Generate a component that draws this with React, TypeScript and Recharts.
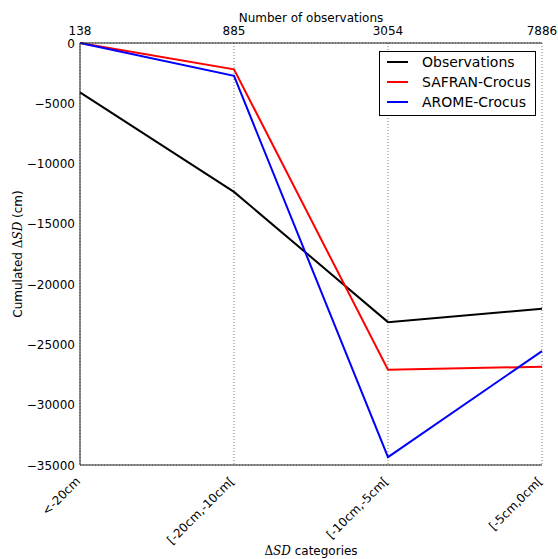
import React from 'react';
import { LineChart, Line, XAxis, YAxis, CartesianGrid, Customized } from 'recharts';

const categories = ['<-20cm', '[-20cm,-10cm[', '[-10cm,-5cm[', '[-5cm,0cm['];
const observationCounts = ['138', '885', '3054', '7886'];
const observations = [-4100, -12350, -23150, -22050];
const safranCrocus = [0, -2180, -27100, -26850];
const aromeCrocus = [0, -2720, -34350, -25550];
const yTicks = [0, -5000, -10000, -15000, -20000, -25000, -30000, -35000];

const seriesInfo = [
  { key: 'obs', name: 'Observations', color: '#000000' },
  { key: 'safran', name: 'SAFRAN-Crocus', color: '#ff0000' },
  { key: 'arome', name: 'AROME-Crocus', color: '#0000ff' },
];

const data = categories.map((c, i) => ({
  cat: c,
  count: observationCounts[i],
  obs: observations[i],
  safran: safranCrocus[i],
  arome: aromeCrocus[i],
}));

const FONT = 'DejaVu Sans, sans-serif';

const fmt = (v: number) => (v < 0 ? '\u2212' + Math.abs(v) : String(v));

const RotTick = (props: any) => {
  const { x, y, payload } = props;
  const ax = x + 1;
  const ay = y + 9;
  return (
    <text
      x={ax}
      y={ay}
      transform={`rotate(-45, ${ax}, ${ay})`}
      textAnchor="end"
      fontSize={12}
      fontFamily={FONT}
      fill="#000"
    >
      {payload.value}
    </text>
  );
};

const TopTick = (props: any) => {
  const { x, y, payload } = props;
  return (
    <text x={x} y={y - 8} textAnchor="middle" fontSize={12} fontFamily={FONT} fill="#000">
      {payload.value}
    </text>
  );
};

const LeftTick = (props: any) => {
  const { x, y, payload } = props;
  return (
    <text x={x} y={y + 4.5} textAnchor="end" fontSize={12} fontFamily={FONT} fill="#000">
      {fmt(payload.value)}
    </text>
  );
};

const Texts = () => (
  <g fontFamily={FONT} fill="#000">
    <text x={311} y={22} textAnchor="middle" fontSize={12}>Number of observations</text>
    <text x={311} y={555} textAnchor="middle" fontSize={12}>
      <tspan fontFamily="DejaVu Serif, serif">Δ</tspan>
      <tspan fontFamily="DejaVu Serif, serif" fontStyle="italic">SD</tspan>
      <tspan> categories</tspan>
    </text>
    <text x={22} y={254} textAnchor="middle" fontSize={12} transform="rotate(-90, 22, 254)">
      <tspan>Cumulated </tspan>
      <tspan fontFamily="DejaVu Serif, serif">Δ</tspan>
      <tspan fontFamily="DejaVu Serif, serif" fontStyle="italic">SD</tspan>
      <tspan> (cm)</tspan>
    </text>
    <g>
      <rect x={379.5} y={51.5} width={156} height={64} fill="#fff" stroke="#000" strokeWidth={1} />
      {seriesInfo.map((s, i) => (
        <g key={s.key}>
          <line x1={387} x2={408} y1={62 + i * 20} y2={62 + i * 20} stroke={s.color} strokeWidth={2} />
          <text x={422} y={62 + i * 20 + 5} fontSize={14}>{s.name}</text>
        </g>
      ))}
    </g>
  </g>
);

export default function App() {
  return (
    <div style={{ position: 'absolute', left: 0, top: 0 }}>
      <LineChart width={558} height={559} data={data} margin={{ top: 0, right: 16, bottom: 0, left: 0 }}>
        <CartesianGrid stroke="#555" strokeWidth={0.8} strokeDasharray="1 2" />
        <XAxis
          dataKey="cat"
          xAxisId="bottom"
          orientation="bottom"
          height={94}
          tickLine={false}
          axisLine={{ stroke: '#222', strokeWidth: 1 }}
          tick={<RotTick />}
          interval={0}
        />
        <XAxis
          dataKey="count"
          xAxisId="top"
          orientation="top"
          height={43}
          tickLine={false}
          axisLine={{ stroke: '#222', strokeWidth: 1 }}
          tick={<TopTick />}
          tickSize={0}
          tickMargin={0}
          interval={0}
        />
        <YAxis
          yAxisId="left"
          width={80}
          domain={[-35000, 0]}
          ticks={yTicks}
          tickLine={false}
          axisLine={{ stroke: '#222', strokeWidth: 1 }}
          tick={<LeftTick />}
          tickSize={0}
          tickMargin={5}
          interval={0}
        />
        <YAxis
          yAxisId="right"
          orientation="right"
          width={0}
          domain={[-35000, 0]}
          ticks={yTicks}
          tick={false}
          tickLine={false}
          axisLine={{ stroke: '#222', strokeWidth: 1 }}
        />
        {seriesInfo.map((s) => (
          <Line
            key={s.key}
            xAxisId="bottom"
            yAxisId="left"
            type="linear"
            dataKey={s.key}
            name={s.name}
            stroke={s.color}
            strokeWidth={2}
            dot={false}
            activeDot={false}
            isAnimationActive={false}
          />
        ))}
        <Customized component={Texts} />
      </LineChart>
    </div>
  );
}
